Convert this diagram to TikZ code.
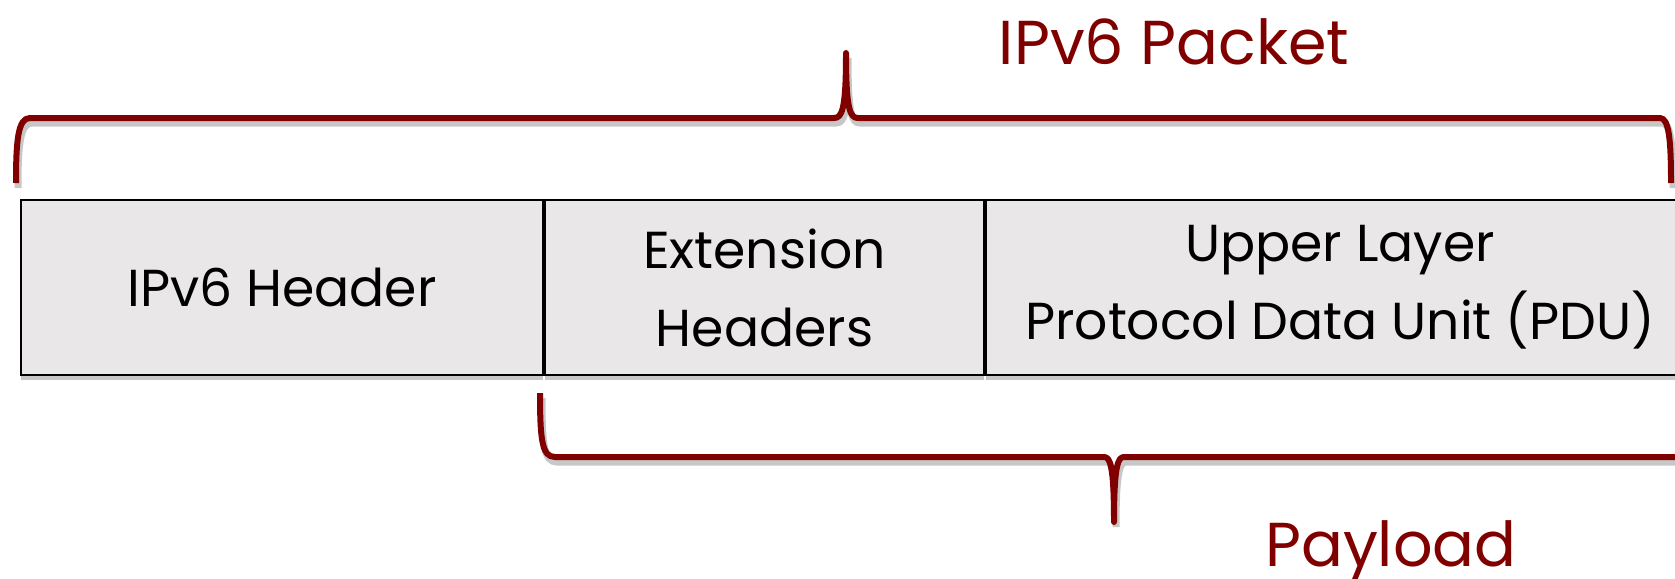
\documentclass[tikz,border=0pt]{standalone}
\usepackage{fontspec}
\setmainfont{Poppins}
\usetikzlibrary{positioning}
\definecolor{bracered}{RGB}{128,0,0}
\definecolor{cellgray}{RGB}{233,231,232}
\tikzset{
  cell/.style={rectangle, draw=black, line width=1pt, fill=cellgray,
    minimum height=87.5pt, inner sep=0pt, align=center,
    font=\fontsize{26}{39}\selectfont,
    preaction={fill=black!22, transform canvas={yshift=-2.5pt}}},
  brace/.style={draw=bracered, line width=3pt, line join=round,
    preaction={draw=black!22, line width=3.5pt, transform canvas={shift={(1pt,-2.5pt)}}}},
  title/.style={text=bracered, font=\fontsize{31}{36}\selectfont, inner sep=0pt, anchor=base}
}
\begin{document}
\begin{tikzpicture}[x=0.5pt, y=-0.5pt]
\useasboundingbox (0,0) rectangle (1675,578);
\clip (0,0) rectangle (1675,578);

% cells of the packet
\node (hdr) [cell, minimum width=261pt, anchor=north west] at (20,199) {IPv6 Header};
\node (ext) [cell, minimum width=219.5pt, right=0pt of hdr] {Extension\\Headers};
\node (pdu) [cell, minimum width=354pt, right=0pt of ext] {Upper Layer\\Protocol Data Unit (PDU)};

% braces
\draw [brace] (16,183) .. controls (16,140) and (18,118) .. (30,118) -- (834,118)
  .. controls (842,118) and (846,110) .. (846,53) .. controls (846,110) and (850,118) .. (858,118)
  -- (1660,118) .. controls (1669,118) and (1671,140) .. (1671,183);
\draw [brace] (540,393) .. controls (540,440) and (542,457) .. (555,457) -- (1104,457)
  .. controls (1110,457) and (1114,465) .. (1114,522) .. controls (1114,465) and (1118,457) .. (1124,457)
  -- (1690,457);

% labels
\node (pkt) [title] at (1174,64) {IPv6 Packet};
\node (pay) [title] at (1391,566) {Payload};

\end{tikzpicture}
\end{document}
